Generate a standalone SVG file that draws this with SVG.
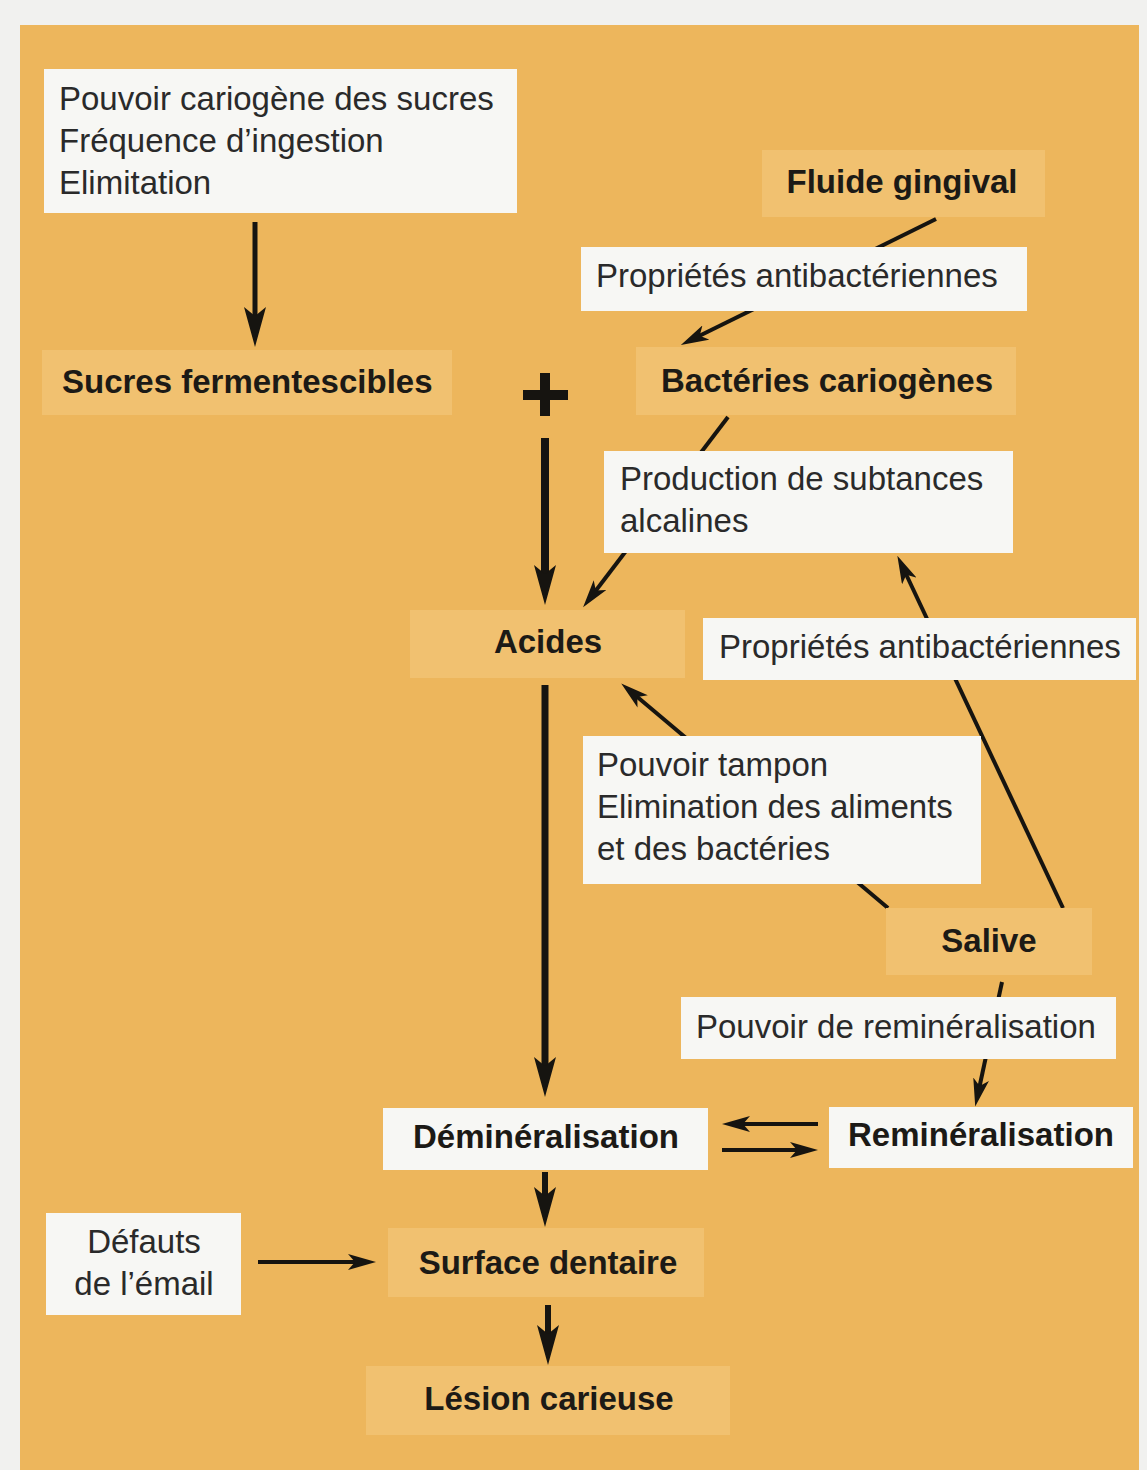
<svg xmlns="http://www.w3.org/2000/svg" width="1147" height="1470" viewBox="0 0 1147 1470">
<style>
  .lbl { fill: #f7f7f4; }
  .node { fill: #f1c170; }
  .t { font-family: "Liberation Sans", Arial, Helvetica, sans-serif; font-size: 33px; fill: #2a2a2a; }
  .b { font-family: "Liberation Sans", Arial, Helvetica, sans-serif; font-size: 33px; font-weight: bold; fill: #1c1a16; }
  .c { text-anchor: middle; }
  .ln { stroke: #161410; fill: none; stroke-linecap: butt; }
</style>
<defs>
  <marker id="ahBig" markerUnits="userSpaceOnUse" viewBox="0 0 40 22" markerWidth="40" markerHeight="22" refX="15" refY="11" orient="auto">
    <path d="M0,0 L40,11 L0,22 L9,11 Z" fill="#161410"/>
  </marker>
  <marker id="ahSm" markerUnits="userSpaceOnUse" viewBox="0 0 28 16" markerWidth="28" markerHeight="16" refX="10" refY="8" orient="auto">
    <path d="M0,0 L28,8 L0,16 L7,8 Z" fill="#161410"/>
  </marker>
</defs>

<rect x="0" y="0" width="1147" height="1470" fill="#f1f1ef"/>
<rect x="20" y="25" width="1119" height="1445" fill="#edb65c"/>

<g id="connectors">
  <line class="ln" x1="255" y1="222" x2="255" y2="322" stroke-width="5" marker-end="url(#ahBig)"/>
  <line class="ln" x1="936" y1="219" x2="697" y2="337" stroke-width="4" marker-end="url(#ahSm)"/>
  <line class="ln" x1="545" y1="438" x2="545" y2="580" stroke-width="8" marker-end="url(#ahBig)"/>
  <line class="ln" x1="728" y1="417" x2="594" y2="593" stroke-width="4" marker-end="url(#ahSm)"/>
  <line class="ln" x1="1063" y1="908" x2="905" y2="572" stroke-width="4" marker-end="url(#ahSm)"/>
  <line class="ln" x1="888" y1="908" x2="635" y2="695" stroke-width="4" marker-end="url(#ahSm)"/>
  <line class="ln" x1="545" y1="685" x2="545" y2="1072" stroke-width="7" marker-end="url(#ahBig)"/>
  <line class="ln" x1="1002" y1="982" x2="979" y2="1089" stroke-width="4" marker-end="url(#ahSm)"/>
  <line class="ln" x1="818" y1="1124" x2="740" y2="1124" stroke-width="4" marker-end="url(#ahSm)"/>
  <line class="ln" x1="722" y1="1150" x2="800" y2="1150" stroke-width="4" marker-end="url(#ahSm)"/>
  <line class="ln" x1="545" y1="1172" x2="545" y2="1202" stroke-width="6" marker-end="url(#ahBig)"/>
  <line class="ln" x1="258" y1="1262" x2="358" y2="1262" stroke-width="4" marker-end="url(#ahSm)"/>
  <line class="ln" x1="548" y1="1305" x2="548" y2="1340" stroke-width="6" marker-end="url(#ahBig)"/>
</g>

<g id="plus">
  <rect x="540" y="373" width="10" height="43" fill="#161410"/>
  <rect x="523" y="390" width="45" height="10" fill="#161410"/>
</g>

<g id="facteurs-sucres">
  <rect class="lbl" x="44" y="69" width="473" height="144"/>
  <text class="t" x="59" y="110">Pouvoir cariogène des sucres</text>
  <text class="t" x="59" y="152">Fréquence d’ingestion</text>
  <text class="t" x="59" y="194">Elimitation</text>
</g>

<g id="fluide-gingival">
  <rect class="node" x="762" y="150" width="283" height="67"/>
  <text class="b c" x="902" y="193">Fluide gingival</text>
</g>

<g id="proprietes-antibact-1">
  <rect class="lbl" x="581" y="247" width="446" height="64"/>
  <text class="t" x="596" y="287">Propriétés antibactériennes</text>
</g>

<g id="sucres-fermentescibles">
  <rect class="node" x="42" y="350" width="410" height="65"/>
  <text class="b" x="62" y="393">Sucres fermentescibles</text>
</g>

<g id="bacteries-cariogenes">
  <rect class="node" x="636" y="347" width="380" height="68"/>
  <text class="b c" x="827" y="392">Bactéries cariogènes</text>
</g>

<g id="production-alcalines">
  <rect class="lbl" x="604" y="451" width="409" height="102"/>
  <text class="t" x="620" y="490">Production de subtances</text>
  <text class="t" x="620" y="532">alcalines</text>
</g>

<g id="acides">
  <rect class="node" x="410" y="610" width="275" height="68"/>
  <text class="b c" x="548" y="653">Acides</text>
</g>

<g id="proprietes-antibact-2">
  <rect class="lbl" x="703" y="618" width="433" height="62"/>
  <text class="t" x="719" y="658">Propriétés antibactériennes</text>
</g>

<g id="pouvoir-tampon">
  <rect class="lbl" x="583" y="736" width="398" height="148"/>
  <text class="t" x="597" y="776">Pouvoir tampon</text>
  <text class="t" x="597" y="818">Elimination des aliments</text>
  <text class="t" x="597" y="860">et des bactéries</text>
</g>

<g id="salive">
  <rect class="node" x="886" y="908" width="206" height="67"/>
  <text class="b c" x="989" y="952">Salive</text>
</g>

<g id="pouvoir-remineralisation">
  <rect class="lbl" x="681" y="997" width="435" height="62"/>
  <text class="t" x="696" y="1038">Pouvoir de reminéralisation</text>
</g>

<g id="demineralisation">
  <rect class="lbl" x="383" y="1108" width="325" height="62"/>
  <text class="b c" x="546" y="1148">Déminéralisation</text>
</g>

<g id="remineralisation">
  <rect class="lbl" x="829" y="1107" width="304" height="61"/>
  <text class="b c" x="981" y="1146">Reminéralisation</text>
</g>

<g id="defauts-email">
  <rect class="lbl" x="46" y="1213" width="195" height="102"/>
  <text class="t c" x="144" y="1253">Défauts</text>
  <text class="t c" x="144" y="1295">de l’émail</text>
</g>

<g id="surface-dentaire">
  <rect class="node" x="388" y="1228" width="316" height="69"/>
  <text class="b c" x="548" y="1274">Surface dentaire</text>
</g>

<g id="lesion-carieuse">
  <rect class="node" x="366" y="1366" width="364" height="69"/>
  <text class="b c" x="549" y="1410">Lésion carieuse</text>
</g>
</svg>
